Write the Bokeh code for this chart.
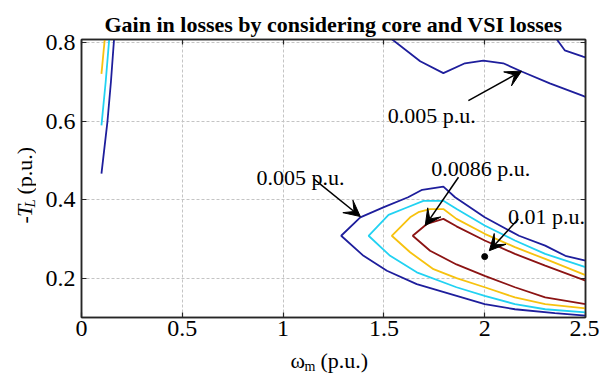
from math import pi

from bokeh.plotting import figure
from bokeh.layouts import column, row
from bokeh.models import (Range1d, FixedTicker, LinearAxis, Label, Arrow, VeeHead,
                          ColumnDataSource, CustomJSTickFormatter)
from bokeh.core.properties import value
from bokeh.embed import file_html
from bokeh.resources import INLINE

# ---- contour traces of the loss gain, speed wm (p.u.) vs load torque -TL (p.u.) ----
# level 0.005 p.u. (four separate pieces)
c1_main_x = [2.5, 2.40, 2.30, 2.17, 2.0, 1.853, 1.795, 1.69, 1.62, 1.50, 1.383, 1.288,
             1.399, 1.515, 1.663, 1.861, 2.0, 2.15, 2.348, 2.5]
c1_main_y = [0.245, 0.257, 0.283, 0.308, 0.355, 0.406, 0.433, 0.425, 0.406, 0.381, 0.355, 0.308,
             0.257, 0.219, 0.185, 0.155, 0.134, 0.121, 0.111, 0.105]
c1_top_x = [1.530, 1.680, 1.795, 1.902, 1.993, 2.092, 2.183, 2.323, 2.488, 2.5]
c1_top_y = [0.812, 0.752, 0.722, 0.747, 0.754, 0.747, 0.726, 0.696, 0.664, 0.661]
c1_corner_x = [2.352, 2.397, 2.488, 2.5]
c1_corner_y = [0.812, 0.780, 0.764, 0.762]
c1_left_x = [0.162, 0.146, 0.129, 0.099]
c1_left_y = [0.812, 0.700, 0.600, 0.466]

# level 2
c2_main_x = [2.5, 2.30, 2.15, 2.0, 1.861, 1.795, 1.696, 1.614, 1.523, 1.424,
             1.531, 1.663, 1.86, 2.0, 2.15, 2.30, 2.5]
c2_main_y = [0.228, 0.262, 0.296, 0.334, 0.376, 0.397, 0.397, 0.380, 0.361, 0.308,
             0.257, 0.215, 0.177, 0.155, 0.134, 0.121, 0.113]
c2_left_x = [0.138, 0.120, 0.099]
c2_left_y = [0.812, 0.700, 0.589]

# level 3
c3_main_x = [2.5, 2.30, 2.15, 2.0, 1.86, 1.795, 1.729, 1.671, 1.630, 1.539,
             1.630, 1.746, 1.86, 2.0, 2.15, 2.30, 2.5]
c3_main_y = [0.208, 0.249, 0.279, 0.313, 0.351, 0.376, 0.376, 0.368, 0.355, 0.308,
             0.266, 0.223, 0.200, 0.177, 0.151, 0.134, 0.123]
c3_left_x = [0.116, 0.099]
c3_left_y = [0.812, 0.720]

# level 4
c4_main_x = [2.5, 2.30, 2.15, 2.0, 1.86, 1.795, 1.713, 1.643,
             1.729, 1.86, 2.0, 2.15, 2.30, 2.5]
c4_main_y = [0.194, 0.232, 0.262, 0.296, 0.332, 0.351, 0.338, 0.308,
             0.270, 0.235, 0.206, 0.177, 0.151, 0.134]

# marked operating point
peak_x = [2.0]
peak_y = [0.255]

# axis ticks
x_ticks = [0.0, 0.5, 1.0, 1.5, 2.0, 2.5]
x_tick_labels = ["0", "0.5", "1", "1.5", "2", "2.5"]
y_ticks = [0.2, 0.4, 0.6, 0.8]
y_tick_labels = ["0.2", "0.4", "0.6", "0.8"]

# annotation texts
note_texts = ["0.005 p.u.", "0.005 p.u.", "0.0086 p.u.", "0.01 p.u."]

BLUE, CYAN, GOLD, RED = "#1e1e9c", "#22d2f2", "#f7c20f", "#8c1414"
SERIF = "Liberation Serif"
INK = "#262626"

contours = ColumnDataSource(data=dict(
    xs=[c1_main_x, c1_top_x, c1_corner_x, c1_left_x, c2_main_x, c2_left_x,
        c3_main_x, c3_left_x, c4_main_x],
    ys=[c1_main_y, c1_top_y, c1_corner_y, c1_left_y, c2_main_y, c2_left_y,
        c3_main_y, c3_left_y, c4_main_y],
    color=[BLUE, BLUE, BLUE, BLUE, CYAN, CYAN, GOLD, GOLD, RED],
))

# ---------------- main axes ----------------
p = figure(width=563, height=346, output_backend="svg", toolbar_location=None,
           x_range=Range1d(0, 2.5), y_range=Range1d(0.1, 0.8075),
           min_border_left=45, min_border_right=14, min_border_top=39, min_border_bottom=29)
p.background_fill_color = "white"
p.border_fill_color = "white"
p.outline_line_color = INK
p.outline_line_width = 1.5

p.title.text = "Gain in losses by considering core and VSI losses"
p.title.text_font = SERIF
p.title.text_font_size = "22px"
p.title.text_font_style = "bold"
p.title.text_color = "black"
p.title.align = "center"
p.title.standoff = 6

# dashed grid
for g in (p.xgrid, p.ygrid):
    g.grid_line_color = "#c4c4c4"
    g.grid_line_dash = "3 2"
    g.grid_line_width = 1
p.xgrid.ticker = FixedTicker(ticks=x_ticks)
p.ygrid.ticker = FixedTicker(ticks=y_ticks)


def style_axis(ax, ticks, labels):
    ax.ticker = FixedTicker(ticks=ticks)
    ax.axis_line_color = INK
    ax.axis_line_width = 1.5
    ax.major_tick_line_color = INK
    ax.major_tick_line_width = 1.2
    ax.major_tick_in = 5
    ax.major_tick_out = 0
    ax.minor_tick_line_color = None
    if labels is None:
        ax.formatter = CustomJSTickFormatter(code="return ''")
        ax.major_label_standoff = 0
    else:
        ax.major_label_overrides = dict(zip(ticks, labels))
        ax.major_label_text_font = SERIF
        ax.major_label_text_font_size = "24px"
        ax.major_label_text_color = "black"


style_axis(p.xaxis[0], x_ticks, x_tick_labels)
style_axis(p.yaxis[0], y_ticks, y_tick_labels)
p.xaxis[0].major_label_standoff = 3
p.yaxis[0].major_label_standoff = 6

top_ax = LinearAxis()
right_ax = LinearAxis()
style_axis(top_ax, x_ticks, None)
style_axis(right_ax, y_ticks, None)
p.add_layout(top_ax, "above")
p.add_layout(right_ax, "right")

# contour lines and the marked point
p.multi_line(xs="xs", ys="ys", line_color="color", line_width=1.8, source=contours)
p.scatter(peak_x, peak_y, size=6, color="black")

# level annotations with arrows
note_pos = [(1.737, 0.614), (1.086, 0.457), (1.980, 0.478), (2.307, 0.357)]
arrow_from = [(1.919, 0.652), (1.152, 0.453), (1.870, 0.457), (2.167, 0.351)]
arrow_to = [(2.183, 0.727), (1.383, 0.357), (1.705, 0.334), (2.023, 0.270)]
for txt, (tx, ty), (x0, y0), (x1, y1) in zip(note_texts, note_pos, arrow_from, arrow_to):
    p.add_layout(Label(x=tx, y=ty, text=txt, text_font=SERIF, text_font_size="22px",
                       text_align="center", text_baseline="alphabetic", text_color="black"))
    p.add_layout(Arrow(x_start=x0, y_start=y0, x_end=x1, y_end=y1, start=None,
                       end=VeeHead(size=16, fill_color="black", line_color="black"),
                       line_color="black", line_width=1.5))


def text_panel(width, height):
    """A bare figure whose data units are pixels, y growing downward."""
    f = figure(width=width, height=height, output_backend="svg", toolbar_location=None,
               x_range=Range1d(0, width), y_range=Range1d(height, 0),
               x_axis_type=None, y_axis_type=None, min_border=0)
    f.outline_line_color = None
    f.background_fill_color = "white"
    f.border_fill_color = "white"
    return f


def put(f, x, y, txt, size="22px", style="normal", angle=0.0):
    f.text(x=[x], y=[y], text=[txt], text_font=value(SERIF), text_font_size=size,
           text_font_style=style, angle=angle, text_align="left",
           text_baseline="alphabetic", text_color="black")


# y-axis label: -T_L (p.u.), read bottom to top
ylab = text_panel(36, 346)
put(ylab, 24, 229, "-", angle=pi / 2)
put(ylab, 24, 221, "T", style="italic", angle=pi / 2)
put(ylab, 29, 209, "L", size="15px", style="italic", angle=pi / 2)
put(ylab, 24, 193, "(p.u.)", angle=pi / 2)

# x-axis label: w_m (p.u.)
xlab = text_panel(599, 28)
put(xlab, 290, 14, "\u03c9")
put(xlab, 304, 20, "m", size="14px")
put(xlab, 320, 14, "(p.u.)")

page = column(row(ylab, p), xlab)
open("out.html", "w").write(file_html(page, INLINE))
